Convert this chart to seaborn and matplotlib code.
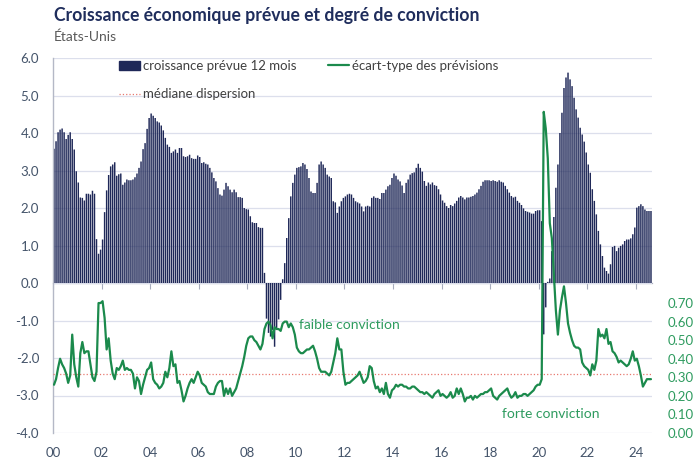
import numpy as np
import pandas as pd
import seaborn as sns
import matplotlib.pyplot as plt
from matplotlib.patches import Patch
from matplotlib.lines import Line2D

# monthly series, Jan 2000 -> Aug 2024
start_year = 2000

# croissance prévue 12 mois (%), one row per year
growth = [
    3.58, 3.78, 4.02, 4.09, 4.12, 4.02, 3.84, 3.95, 4.02, 3.84, 3.56, 2.98,
    2.68, 2.28, 2.27, 2.20, 2.38, 2.38, 2.36, 2.46, 2.38, 1.17, 0.78, 0.89,
    1.16, 1.89, 2.47, 2.88, 3.11, 3.16, 3.22, 2.86, 2.90, 2.92, 2.62, 2.68,
    2.76, 2.74, 2.74, 2.76, 2.82, 2.92, 3.07, 3.24, 3.57, 3.73, 4.11, 4.40,
    4.52, 4.46, 4.40, 4.31, 4.28, 4.20, 4.07, 3.87, 3.69, 3.63, 3.47, 3.51,
    3.56, 3.47, 3.60, 3.60, 3.38, 3.36, 3.38, 3.42, 3.33, 3.31, 3.31, 3.40,
    3.36, 3.20, 3.22, 3.18, 3.16, 3.07, 2.95, 2.80, 2.71, 2.53, 2.36, 2.33,
    2.49, 2.67, 2.58, 2.49, 2.42, 2.49, 2.42, 2.29, 2.29, 2.27, 2.00, 1.97,
    1.96, 1.78, 1.62, 1.60, 1.60, 1.49, 1.47, 1.47, 0.27, -0.95, -1.33, -1.43,
    -1.25, -1.70, -1.25, -0.97, -0.45, 0.10, 0.53, 1.20, 1.73, 2.31, 2.67, 2.89,
    3.07, 3.09, 3.11, 3.20, 3.16, 3.04, 2.80, 2.44, 2.40, 2.40, 2.67, 3.16,
    3.24, 3.16, 3.07, 2.89, 2.84, 2.80, 2.18, 2.15, 1.87, 2.04, 2.18, 2.27,
    2.31, 2.36, 2.38, 2.36, 2.27, 2.18, 2.15, 2.12, 2.04, 1.91, 2.04, 2.06,
    2.04, 2.27, 2.31, 2.27, 2.27, 2.24, 2.40, 2.40, 2.49, 2.58, 2.62, 2.80,
    2.92, 2.86, 2.76, 2.71, 2.60, 2.40, 2.67, 2.76, 2.89, 2.93, 2.95, 3.07,
    3.18, 3.07, 2.97, 2.72, 2.59, 2.68, 2.63, 2.68, 2.61, 2.59, 2.50, 2.36,
    2.20, 2.14, 2.05, 2.00, 2.08, 2.05, 2.12, 2.19, 2.28, 2.32, 2.28, 2.23,
    2.28, 2.28, 2.30, 2.32, 2.36, 2.41, 2.50, 2.59, 2.70, 2.74, 2.74, 2.74,
    2.72, 2.74, 2.72, 2.70, 2.74, 2.70, 2.68, 2.59, 2.50, 2.41, 2.32, 2.28,
    2.30, 2.19, 2.14, 2.08, 1.99, 1.92, 1.90, 1.88, 1.85, 1.85, 1.92, 1.94,
    1.94, 1.65, -1.37, -0.65, 0.03, 0.12, 0.85, 1.76, 2.54, 3.16, 4.00, 4.54,
    5.20, 5.48, 5.61, 5.43, 5.25, 4.94, 4.63, 4.41, 4.14, 3.96, 3.77, 3.48,
    3.16, 2.94, 2.50, 2.19, 1.83, 1.39, 1.03, 0.72, 0.41, 0.32, 0.25, 0.50,
    0.96, 0.99, 0.85, 0.94, 0.99, 1.03, 1.12, 1.16, 1.16, 1.19, 1.30, 1.48,
    2.01, 2.05, 2.10, 2.05, 1.96, 1.92, 1.92, 1.92,
]

# écart-type des prévisions
dispersion = [
    0.26, 0.29, 0.35, 0.40, 0.37, 0.35, 0.32, 0.27, 0.31, 0.53, 0.37, 0.30,
    0.25, 0.43, 0.49, 0.43, 0.44, 0.44, 0.37, 0.30, 0.28, 0.33, 0.70, 0.70,
    0.71, 0.62, 0.45, 0.51, 0.39, 0.32, 0.29, 0.35, 0.34, 0.36, 0.39, 0.34,
    0.35, 0.34, 0.34, 0.32, 0.24, 0.30, 0.28, 0.21, 0.26, 0.30, 0.34, 0.35,
    0.38, 0.29, 0.27, 0.26, 0.24, 0.25, 0.27, 0.33, 0.30, 0.35, 0.44, 0.36,
    0.37, 0.27, 0.28, 0.23, 0.17, 0.20, 0.24, 0.27, 0.29, 0.27, 0.30, 0.33,
    0.31, 0.27, 0.26, 0.25, 0.22, 0.21, 0.21, 0.21, 0.25, 0.27, 0.28, 0.28,
    0.20, 0.24, 0.21, 0.24, 0.20, 0.22, 0.24, 0.28, 0.32, 0.36, 0.41, 0.47,
    0.51, 0.52, 0.52, 0.50, 0.49, 0.47, 0.45, 0.48, 0.56, 0.59, 0.60, 0.58,
    0.51, 0.57, 0.56, 0.56, 0.55, 0.59, 0.60, 0.60, 0.57, 0.59, 0.57, 0.53,
    0.46, 0.44, 0.43, 0.43, 0.44, 0.45, 0.45, 0.46, 0.47, 0.44, 0.40, 0.35,
    0.33, 0.33, 0.33, 0.32, 0.31, 0.33, 0.38, 0.43, 0.51, 0.45, 0.45, 0.33,
    0.26, 0.27, 0.27, 0.28, 0.29, 0.30, 0.31, 0.33, 0.30, 0.27, 0.28, 0.30,
    0.36, 0.35, 0.28, 0.24, 0.25, 0.22, 0.24, 0.21, 0.27, 0.21, 0.19, 0.23,
    0.24, 0.26, 0.25, 0.26, 0.26, 0.25, 0.25, 0.24, 0.24, 0.25, 0.25, 0.24,
    0.23, 0.22, 0.22, 0.21, 0.22, 0.21, 0.20, 0.19, 0.21, 0.22, 0.23, 0.20,
    0.21, 0.20, 0.19, 0.20, 0.22, 0.19, 0.20, 0.24, 0.21, 0.24, 0.21, 0.17,
    0.19, 0.19, 0.20, 0.18, 0.20, 0.19, 0.20, 0.21, 0.21, 0.22, 0.22, 0.23,
    0.24, 0.20, 0.19, 0.18, 0.20, 0.21, 0.22, 0.23, 0.24, 0.21, 0.19, 0.20,
    0.22, 0.19, 0.20, 0.20, 0.21, 0.21, 0.20, 0.21, 0.22, 0.23, 0.25, 0.26,
    0.26, 0.29, 1.73, 1.64, 1.48, 1.13, 1.05, 0.85, 0.66, 0.53, 0.66, 0.73,
    0.79, 0.70, 0.59, 0.54, 0.50, 0.47, 0.46, 0.46, 0.45, 0.38, 0.36, 0.35,
    0.34, 0.31, 0.37, 0.34, 0.39, 0.56, 0.52, 0.53, 0.51, 0.56, 0.48, 0.49,
    0.44, 0.43, 0.41, 0.38, 0.39, 0.38, 0.37, 0.36, 0.37, 0.40, 0.44, 0.39,
    0.40, 0.36, 0.31, 0.25, 0.27, 0.29, 0.29, 0.29,
]

median_dispersion = 0.32

year_ticks = [2000, 2002, 2004, 2006, 2008, 2010, 2012, 2014, 2016, 2018, 2020, 2022, 2024]
year_labels = ["00", "02", "04", "06", "08", "10", "12", "14", "16", "18", "20", "22", "24"]
left_ticks = [-4, -3, -2, -1, 0, 1, 2, 3, 4, 5, 6]
right_ticks = [0.0, 0.1, 0.2, 0.3, 0.4, 0.5, 0.6, 0.7]

NAVY = "#1f2858"
GREEN = "#1b8a4c"
GREEN_TXT = "#2e9b5f"
SLATE = "#44546a"
GRID = "#dcdfec"

n = len(growth)
df = pd.DataFrame({
    "t": start_year + (np.arange(n) + 0.5) / 12,
    "growth": growth,
    "dispersion": dispersion,
})

sns.set_theme(style="white")
plt.rcParams["font.family"] = ["Lato", "DejaVu Sans"]
plt.rcParams["axes.unicode_minus"] = False

W, H = 699, 458
fig = plt.figure(figsize=(W / 100, H / 100), dpi=100)
ax = fig.add_axes([53 / W, 1 - 433 / H, 599 / W, 375 / H])

sns.barplot(data=df, x="t", y="growth", native_scale=True, orient="x",
            color=NAVY, saturation=1, width=0.72, errorbar=None,
            linewidth=0, ax=ax)
# no pixel snapping, so the thin monthly bars render evenly
for p in ax.patches:
    p.set_snap(False)
    p.set_antialiased(True)

ax.set_xlim(start_year, start_year + n / 12)
ax.set_ylim(-4, 6)
ax.set_yticks(left_ticks)
ax.set_yticklabels([f"{v:.1f}" for v in left_ticks])
ax.set_xticks(year_ticks)
ax.set_xticklabels(year_labels)
ax.set_xlabel("")
ax.set_ylabel("")
ax.tick_params(axis="both", length=0, labelsize=9.5, labelcolor=SLATE)
ax.tick_params(axis="y", pad=10)
ax.tick_params(axis="x", pad=10)
ax.grid(axis="y", color=GRID, linewidth=0.9)
ax.set_axisbelow(True)
for s in ["top", "right", "bottom"]:
    ax.spines[s].set_visible(False)
ax.spines["left"].set_color("#b4b8c6")
ax.spines["left"].set_linewidth(1.0)

# axis line at zero with year ticks
zero_axis = ax.secondary_xaxis(0.4)
zero_axis.set_xticks(year_ticks)
zero_axis.tick_params(axis="x", length=4, width=0.8, color="#a8adbd", labelbottom=False)
zero_axis.spines["bottom"].set_color("#a8adbd")
zero_axis.spines["bottom"].set_linewidth(0.9)

ax2 = ax.twinx()
sns.lineplot(data=df, x="t", y="dispersion", ax=ax2, color=GREEN, linewidth=1.6)
ax2.axhline(median_dispersion, color="#e8786f", linestyle=":", linewidth=0.9, zorder=1)
ax2.set_ylim(0, 2.02)
ax2.set_yticks(right_ticks)
ax2.set_yticklabels([f"{v:.2f}" for v in right_ticks])
ax2.tick_params(axis="y", length=0, labelsize=9.5, labelcolor=GREEN_TXT, pad=11)
ax2.set_xlabel("")
ax2.set_ylabel("")
for s in ax2.spines.values():
    s.set_visible(False)

ax2.text(2010.15, 0.58, "faible conviction", color=GREEN_TXT, fontsize=10, va="center", ha="left")
ax2.text(2018.5, 0.10, "forte conviction", color=GREEN_TXT, fontsize=10, va="center", ha="left")

handles = [
    Patch(facecolor=NAVY, edgecolor=NAVY),
    Line2D([], [], color="#e8786f", linestyle=":", linewidth=0.9),
    Line2D([], [], color=GREEN, linewidth=1.6),
]
labels = ["croissance prévue 12 mois", "médiane dispersion", "écart-type des prévisions"]
fig.legend(handles, labels, ncol=2, loc="upper left",
           bbox_to_anchor=(119 / W, 1 - 60 / H), frameon=False, fontsize=9.5,
           handlelength=1.6, handleheight=0.7, handletextpad=0.2,
           columnspacing=2.4, labelspacing=1.25, borderpad=0, borderaxespad=0,
           labelcolor="#404040")

fig.text(54 / W, 1 - 21 / H, "Croissance économique prévue et degré de conviction",
         fontsize=12.7, fontweight="bold", color="#1f2d5c", va="baseline")
fig.text(54 / W, 1 - 41 / H, "États-Unis", fontsize=10, color="#595959", va="baseline")

fig.savefig("out.png", dpi=100)
